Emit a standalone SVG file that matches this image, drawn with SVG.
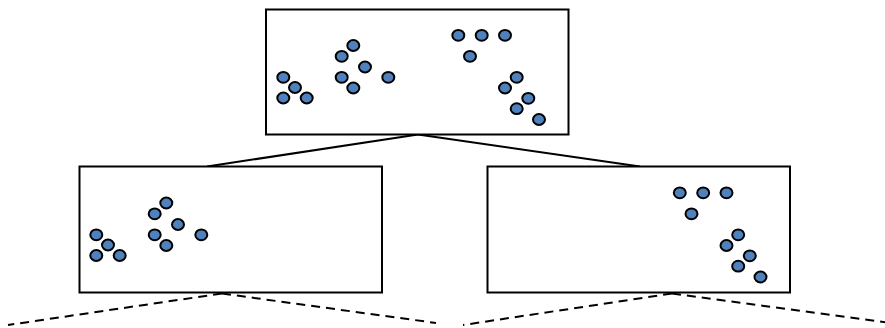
<svg xmlns="http://www.w3.org/2000/svg" xmlns:xlink="http://www.w3.org/1999/xlink" width="885" height="328" viewBox="0 0 885 328">
<style>
.box{fill:#fff;stroke:#000;stroke-width:2}
.dot{fill:#4F81BD;stroke:#000;stroke-width:2}
.link{stroke:#000;stroke-width:2;fill:none}
.dash{stroke:#000;stroke-width:2;fill:none;stroke-dasharray:9 6}
</style>
<defs>
<g id="clusterA">
<ellipse class="dot" cx="283.3" cy="77.3" rx="6" ry="5.4"/>
<ellipse class="dot" cx="295" cy="87.5" rx="6" ry="5.4"/>
<ellipse class="dot" cx="283.3" cy="98" rx="6" ry="5.4"/>
<ellipse class="dot" cx="306.7" cy="98" rx="6" ry="5.4"/>
<ellipse class="dot" cx="353.3" cy="45.5" rx="6" ry="5.4"/>
<ellipse class="dot" cx="341.7" cy="56.3" rx="6" ry="5.4"/>
<ellipse class="dot" cx="365" cy="67" rx="6" ry="5.4"/>
<ellipse class="dot" cx="341.7" cy="77.3" rx="6" ry="5.4"/>
<ellipse class="dot" cx="353.3" cy="88" rx="6" ry="5.4"/>
<ellipse class="dot" cx="388.3" cy="77.3" rx="6" ry="5.4"/>
</g>
<g id="clusterB">
<ellipse class="dot" cx="458.3" cy="35.3" rx="6" ry="5.4"/>
<ellipse class="dot" cx="481.7" cy="35.3" rx="6" ry="5.4"/>
<ellipse class="dot" cx="505" cy="35.3" rx="6" ry="5.4"/>
<ellipse class="dot" cx="470" cy="56.3" rx="6" ry="5.4"/>
<ellipse class="dot" cx="516.7" cy="77.3" rx="6" ry="5.4"/>
<ellipse class="dot" cx="505" cy="88" rx="6" ry="5.4"/>
<ellipse class="dot" cx="528.3" cy="98.3" rx="6" ry="5.4"/>
<ellipse class="dot" cx="516.7" cy="108.7" rx="6" ry="5.4"/>
<ellipse class="dot" cx="539" cy="119.5" rx="6" ry="5.4"/>
</g>
</defs>
<g id="connectors">
<line class="link" x1="418" y1="134.5" x2="207" y2="166.5"/>
<line class="link" x1="418" y1="134.5" x2="640" y2="166.5"/>
<line class="dash" x1="222" y1="293.5" x2="8" y2="325"/>
<line class="dash" x1="222" y1="293.5" x2="436" y2="323"/>
<line class="dash" x1="672" y1="293.5" x2="463" y2="325"/>
<line class="dash" x1="672" y1="293.5" x2="887" y2="322.5"/>
</g>
<g id="root">
<rect class="box" x="266" y="9.5" width="302.5" height="125"/>
<use xlink:href="#clusterA"/>
<use xlink:href="#clusterB"/>
</g>
<g id="left">
<rect class="box" x="79.5" y="166.5" width="302.5" height="126"/>
<use xlink:href="#clusterA" transform="translate(-187,157.5)"/>
</g>
<g id="right">
<rect class="box" x="487.5" y="166.5" width="302.5" height="126"/>
<use xlink:href="#clusterB" transform="translate(221.5,157.5)"/>
</g>
</svg>
